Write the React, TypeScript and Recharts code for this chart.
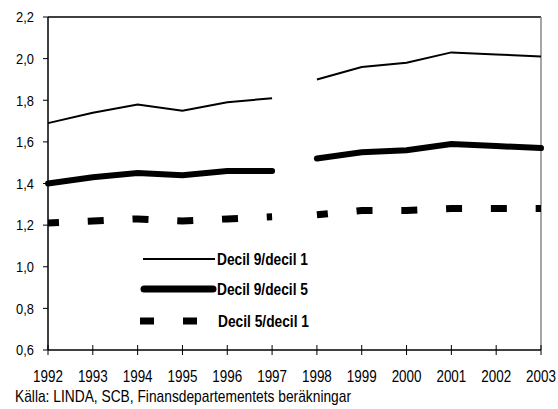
import React from "react";
import { LineChart, Line, XAxis, YAxis, ReferenceLine, Legend } from "recharts";

const years = [1992, 1993, 1994, 1995, 1996, 1997, 1998, 1999, 2000, 2001, 2002, 2003];
const decil91 = [1.69, 1.74, 1.78, 1.75, 1.79, 1.81, 1.9, 1.96, 1.98, 2.03, 2.02, 2.01];
const decil95 = [1.4, 1.43, 1.45, 1.44, 1.46, 1.46, 1.52, 1.55, 1.56, 1.59, 1.58, 1.57];
const decil51 = [1.21, 1.22, 1.23, 1.22, 1.23, 1.24, 1.25, 1.27, 1.27, 1.28, 1.28, 1.28];
const yTicks = [0.6, 0.8, 1.0, 1.2, 1.4, 1.6, 1.8, 2.0, 2.2];
const breakYear = 1997; // series are broken between 1997 and 1998
const seriesNames = ["Decil 9/decil 1", "Decil 9/decil 5", "Decil 5/decil 1"];
const sourceText = "Källa: LINDA, SCB, Finansdepartementets beräkningar";

const data = years.map((y, i) => ({
  year: y,
  a1: y <= breakYear ? decil91[i] : null,
  a2: y > breakYear ? decil91[i] : null,
  b1: y <= breakYear ? decil95[i] : null,
  b2: y > breakYear ? decil95[i] : null,
  c1: y <= breakYear ? decil51[i] : null,
  c2: y > breakYear ? decil51[i] : null,
}));

const FONT = "'Liberation Sans', Arial, sans-serif";

const NarrowText = ({ x, y, sx, children, anchor = "start", size = 18, bold = false, dy }: any) => (
  <text
    transform={`translate(${x},${y}) scale(${sx},1)`}
    x={0}
    y={0}
    dy={dy}
    textAnchor={anchor}
    fontSize={size}
    fontWeight={bold ? "bold" : "normal"}
    fontFamily={FONT}
    fill="#000"
  >
    {children}
  </text>
);

const XTick = (props: any) => {
  const { x, y, payload } = props;
  return (
    <g>
      <line x1={x} x2={x} y1={y - 5} y2={y + 5} stroke="#000" strokeWidth={1} />
      <NarrowText x={x} y={y + 32} sx={0.79} size={17} anchor="middle">
        {payload.value}
      </NarrowText>
    </g>
  );
};

const YTick = (props: any) => {
  const { x, y, payload } = props;
  return (
    <NarrowText x={x} y={y} sx={0.86} size={15} anchor="end" dy="0.355em">
      {Number(payload.value).toFixed(1).replace(".", ",")}
    </NarrowText>
  );
};

const LegendContent = () => (
  <svg width={230} height={95} style={{ overflow: "visible" }}>
    <line x1={13} x2={85} y1={14} y2={14} stroke="#000" strokeWidth={2} />
    <NarrowText x={87} y={14} sx={0.81} size={17} bold dy="0.355em">
      {seriesNames[0]}
    </NarrowText>
    <line x1={14} x2={83} y1={44} y2={44} stroke="#000" strokeWidth={7} strokeLinecap="round" />
    <NarrowText x={87} y={44} sx={0.81} size={17} bold dy="0.355em">
      {seriesNames[1]}
    </NarrowText>
    <line x1={10} x2={70} y1={76} y2={76} stroke="#000" strokeWidth={7} strokeDasharray="14 29" />
    <NarrowText x={88} y={76} sx={0.81} size={17} bold dy="0.355em">
      {seriesNames[2]}
    </NarrowText>
  </svg>
);

export default function App() {
  const thin = { stroke: "#000", strokeWidth: 2, dot: false, isAnimationActive: false, type: "linear" as const };
  const thick = { stroke: "#000", strokeWidth: 6, dot: false, isAnimationActive: false, type: "linear" as const, strokeLinecap: "round" as const };
  const dashed = { stroke: "#000", strokeWidth: 7, dot: false, isAnimationActive: false, type: "linear" as const, strokeDasharray: "16 28.8", strokeDashoffset: 5 };
  return (
    <div style={{ position: "absolute", left: 0, top: 0, width: 558, height: 409, background: "#fff", fontFamily: FONT }}>
      <LineChart width={558} height={409} data={data} margin={{ top: 17, right: 17, bottom: 29, left: 0 }}>
        <XAxis
          dataKey="year"
          type="number"
          domain={[1992, 2003]}
          ticks={years}
          axisLine={{ stroke: "#000", strokeWidth: 1.5 }}
          tickLine={false}
          tickSize={0}
          tickMargin={0}
          tick={<XTick />}
          height={30}
          interval={0}
        />
        <YAxis
          domain={[0.6, 2.2]}
          ticks={yTicks}
          width={48}
          axisLine={{ stroke: "#000", strokeWidth: 1.5 }}
          tickLine={{ stroke: "#000" }}
          tickSize={5}
          tickMargin={9}
          tick={<YTick />}
          interval={0}
        />
        <ReferenceLine y={2.2} stroke="#000" strokeWidth={1.5} />
        <ReferenceLine x={2003} stroke="#888" strokeWidth={1.5} />
        <Line dataKey="a1" {...thin} />
        <Line dataKey="a2" {...thin} />
        <Line dataKey="b1" {...thick} />
        <Line dataKey="b2" {...thick} />
        <Line dataKey="c1" {...dashed} />
        <Line dataKey="c2" {...dashed} />
        <Legend
          layout="horizontal"
          verticalAlign="middle"
          align="center"
          content={<LegendContent />}
          wrapperStyle={{ left: 130, top: 245, width: 230, height: 95 }}
        />
      </LineChart>
      <div
        style={{
          position: "absolute",
          left: 15,
          top: 388,
          fontSize: 17,
          color: "#000",
          whiteSpace: "nowrap",
          lineHeight: "18px",
          transform: "scaleX(0.81)",
          transformOrigin: "0 0",
        }}
      >
        {sourceText}
      </div>
    </div>
  );
}
